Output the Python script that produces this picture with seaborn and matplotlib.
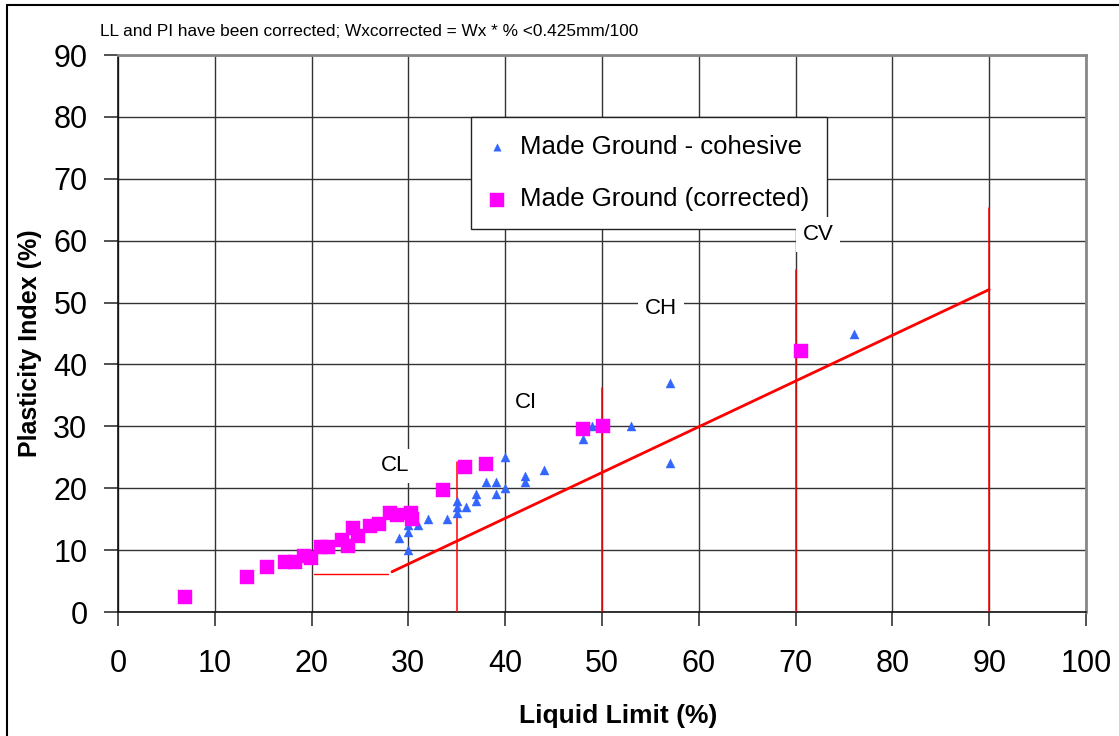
import matplotlib
matplotlib.use("Agg")
import matplotlib.pyplot as plt
import seaborn as sns
import pandas as pd
from matplotlib.lines import Line2D

# ---- data ----
tri_ll = [29, 30, 30, 30, 31, 32, 34, 35, 35, 35, 36, 37, 37, 38, 39, 39, 40, 40, 42, 42, 44, 48, 49, 53, 57, 57, 76]
tri_pi = [12, 10, 13, 14, 14, 15, 15, 16, 17, 18, 17, 18, 19, 21, 21, 19, 20, 25, 21, 22, 23, 28, 30, 30, 37, 24, 45]

sq_ll = [6.9, 13.3, 15.4, 17.3, 18.3, 19.2, 19.9, 21.0, 21.7, 23.1, 23.8, 24.3, 24.8, 26.0, 27.0, 28.1, 28.8, 30.3, 30.4, 33.6, 35.8, 38.0, 48.0, 50.1, 70.6]
sq_pi = [2.5, 5.7, 7.2, 8.1, 8.1, 9.0, 8.8, 10.5, 10.5, 11.7, 10.6, 13.6, 12.3, 13.9, 14.2, 16.0, 15.6, 16.0, 15.0, 19.7, 23.5, 23.9, 29.5, 30.1, 42.1]

series_names = ["Made Ground - cohesive", "Made Ground (corrected)"]

# A-line and boundary lines
aline_ll = [28.3, 90]
aline_pi = [6.5, 52.1]
flat_ll = [20.2, 27.9]
flat_pi = [6.1, 6.1]
bound_ll = [35, 50, 70, 90]
bound_top = [24.3, 36.2, 55.2, 65.3]

zone_labels = ["CL", "CI", "CH", "CV"]
zone_ll = [28.6, 42.1, 56.1, 72.3]
zone_pi = [23.6, 33.8, 49.0, 61.0]

xticks = list(range(0, 101, 10))
yticks = list(range(0, 91, 10))
note = "LL and PI have been corrected; Wxcorrected = Wx * % <0.425mm/100"

# ---- plot ----
sns.set_style("white")
plt.rcParams["font.family"] = ["Liberation Sans", "DejaVu Sans"]
plt.rcParams["text.color"] = "black"
plt.rcParams["axes.labelcolor"] = "black"
plt.rcParams["xtick.color"] = "black"
plt.rcParams["ytick.color"] = "black"

fig = plt.figure(figsize=(11.19, 7.36), dpi=100)
ax = fig.add_axes([118/1119, 1-612/736, (1086-118)/1119, (612-55)/736])

ax.set_xlim(0, 100)
ax.set_ylim(0, 90)
ax.set_xticks(xticks)
ax.set_yticks(yticks)
ax.grid(True, color="#333333", linewidth=1.0, zorder=0)
ax.set_axisbelow(True)

for s in ["left", "bottom"]:
    ax.spines[s].set_color("#111111")
    ax.spines[s].set_linewidth(1.2)
for s in ["top", "right"]:
    ax.spines[s].set_color("#888888")
    ax.spines[s].set_linewidth(2.0)

ax.tick_params(axis="both", which="major", direction="out", length=10, width=1.2,
               color="#333333", labelcolor="black", labelsize=22, bottom=True, left=True)
ax.tick_params(axis="x", pad=17)
ax.tick_params(axis="y", pad=12)

# red lines
ax.plot(aline_ll, aline_pi, color="#ff0000", linewidth=2.0, zorder=3)
ax.plot(flat_ll, flat_pi, color="#ff0000", linewidth=1.0, zorder=3)
for x, top in zip(bound_ll, bound_top):
    ax.plot([x, x], [0, top], color="#ff0000", linewidth=1.1, zorder=3)

# scatter points
df_tri = pd.DataFrame({"LL": tri_ll, "PI": tri_pi})
df_sq = pd.DataFrame({"LL": sq_ll, "PI": sq_pi})
sns.scatterplot(data=df_tri, x="LL", y="PI", marker="^", s=42, color="#3366ff",
                edgecolor="#3366ff", linewidth=0.3, ax=ax, zorder=4, label=series_names[0])
sns.scatterplot(data=df_sq, x="LL", y="PI", marker="s", s=95, color="#ff00ff",
                edgecolor="#ff00ff", linewidth=0.3, ax=ax, zorder=5, label=series_names[1])

# zone labels with white boxes
for lab, x, y in zip(zone_labels, zone_ll, zone_pi):
    ax.text(x, y, lab, fontsize=16, ha="center", va="center", zorder=7, color="black",
            bbox=dict(facecolor="white", edgecolor="none", pad=5))

ax.set_xlabel("Liquid Limit (%)", fontsize=19, fontweight="bold")
ax.set_ylabel("Plasticity Index (%)", fontsize=18, fontweight="bold")
ax.xaxis.set_label_coords((618-118)/968, -(704-612)/557)
ax.yaxis.set_label_coords(-(118-42)/968, (612-343)/557)

leg = ax.legend(loc="upper left", bbox_to_anchor=((471-118)/968, (612-117)/557),
                fontsize=18.5, frameon=True, fancybox=False, framealpha=1,
                edgecolor="#222222", handlelength=0.6, handletextpad=0.6,
                labelspacing=1.1, borderpad=0.7, borderaxespad=0)
leg.get_frame().set_linewidth(1.0)
leg.set_zorder(6)
for t in leg.get_texts():
    t.set_color("black")
hs = leg.legend_handles
hs[0].set_sizes([28])
hs[1].set_sizes([100])

fig.text(100/1119, 1-32/736, note, fontsize=12.4, ha="left", va="center", color="black")

# figure border (left and top edges visible)
fig.add_artist(Line2D([7/1119, 7/1119], [0, 1-5/736], transform=fig.transFigure,
                      color="black", linewidth=1.5))
fig.add_artist(Line2D([7/1119, 1], [1-5/736, 1-5/736], transform=fig.transFigure,
                      color="black", linewidth=1.5))

fig.savefig("out.png", dpi=100)
